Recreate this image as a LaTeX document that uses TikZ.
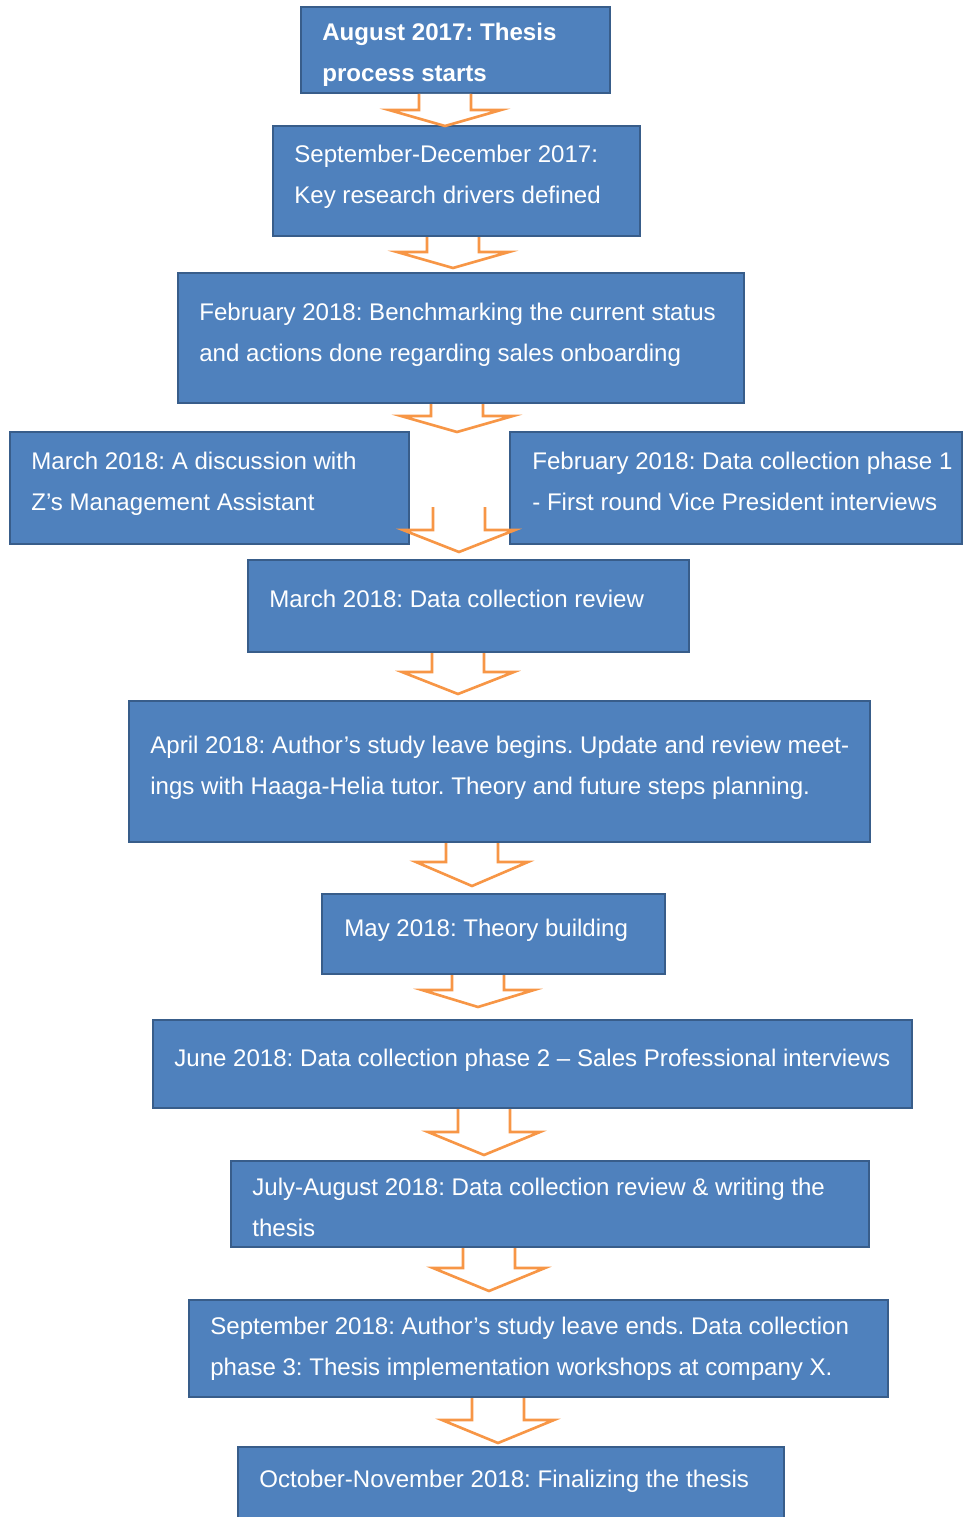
\documentclass[tikz,border=0pt]{standalone}
\usepackage{fontspec}
\setmainfont{Liberation Sans}
\usepackage{tikz}
\frenchspacing

\definecolor{stagefill}{HTML}{4F81BD}
\definecolor{stageline}{HTML}{385D8A}
\definecolor{arroworange}{HTML}{F79646}

\tikzset{
  stagebox/.style={draw=stageline, fill=stagefill, line width=1.1pt, inner sep=0pt},
  stagetext/.style={text=white, anchor=north west, inner sep=0pt, align=left,
    font=\fontsize{13.7pt}{23.25pt}\selectfont},
  flowarrow/.style={draw=arroworange, fill=white, line width=1.5pt, line join=miter}
}

% name, x1, y1, x2, y2, text x, first line y, text
\newcommand{\stage}[8]{%
  \node[stagebox, minimum width={(#4-#2)*0.02cm}, minimum height={(#5-#3)*0.02cm}]
    (#1) at ({(#2+#4)/2},{(#3+#5)/2}) {};
  \node[stagetext] (#1-text) at (#6,#7-9) {#8};
}
% centre x, top y, head y, tip y
\newcommand{\flowarrow}[4]{%
  \draw[flowarrow] (#1+26,#2) -- (#1+26,#3) -- (#1+56,#3) -- (#1,#4)
    -- (#1-56,#3) -- (#1-26,#3) -- (#1-26,#2);
}

\begin{document}
\begin{tikzpicture}[x=0.02cm, y=-0.02cm]
    \useasboundingbox (0,0) rectangle (963,1517);

    \stage{start}{301}{7}{610}{93}{322}{32}{\bfseries August 2017: Thesis\\\bfseries process starts}
    \stage{drivers}{273}{126}{640}{236}{294}{154}{September-December 2017:\\Key research drivers defined}
    \stage{bench}{178}{273}{744}{403}{199}{312}{February 2018: Benchmarking the current status\\and actions done regarding sales onboarding}
    \stage{discuss}{10}{432}{409}{544}{31}{461}{March 2018: A discussion with\\Z’s Management Assistant}
    \stage{phaseone}{510}{432}{962}{544}{532}{461}{February 2018: Data collection phase 1\\- First round Vice President interviews}
    \stage{reviewone}{248}{560}{689}{652}{269}{599}{March 2018: Data collection review}
    \stage{leave}{129}{701}{870}{842}{150}{745}{April 2018: Author’s study leave begins. Update and review meet-\\ings with Haaga-Helia tutor. Theory and future steps planning.}
    \stage{theory}{322}{894}{665}{974}{344}{928}{May 2018: Theory building}
    \stage{phasetwo}{153}{1020}{912}{1108}{174}{1058}{June 2018: Data collection phase 2 – Sales Professional interviews}
    \stage{writing}{231}{1161}{869}{1247}{252}{1187}{July-August 2018: Data collection review \& writing the\\thesis}
    \stage{phasethree}{189}{1300}{888}{1397}{210}{1326}{September 2018: Author’s study leave ends. Data collection\\phase 3: Thesis implementation workshops at company X.}
    \stage{final}{238}{1447}{784}{1530}{259}{1479}{October-November 2018: Finalizing the thesis}

    \flowarrow{445}{94}{110}{126}
    \flowarrow{453}{237}{252}{268}
    \flowarrow{457}{404}{416}{432}
    \flowarrow{459}{507}{530}{552}
    \flowarrow{458}{653}{672}{694}
    \flowarrow{472}{843}{862}{886}
    \flowarrow{478}{975}{990}{1007}
    \flowarrow{484}{1109}{1132}{1155}
    \flowarrow{489}{1248}{1268}{1291}
    \flowarrow{498}{1398}{1420}{1443}
\end{tikzpicture}
\end{document}
